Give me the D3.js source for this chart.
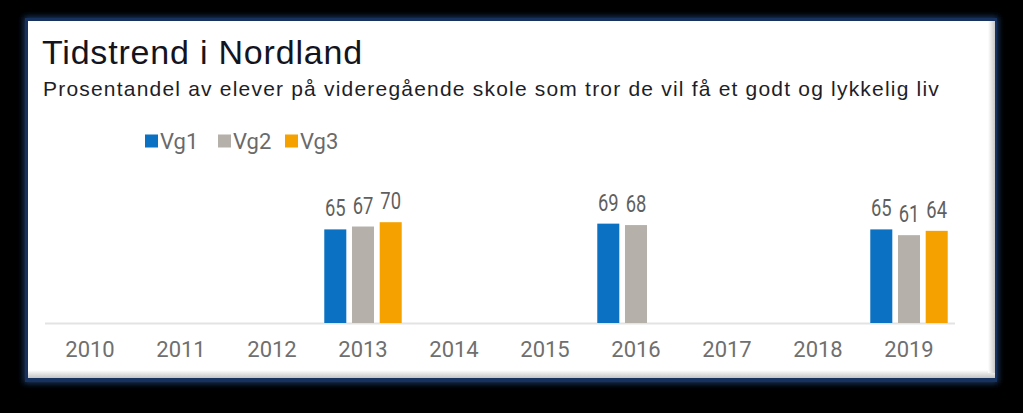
<!DOCTYPE html>
<html><head><meta charset="utf-8">
<script src="https://cdn.jsdelivr.net/npm/d3@7"></script>
<style>
html,body{margin:0;padding:0;background:#000;}
svg{display:block;}
</style></head>
<body>
<svg id="chart" width="1023" height="413"></svg>
<script>
const title = "Tidstrend i Nordland";
const subtitle = "Prosentandel av elever på videregående skole som tror de vil få et godt og lykkelig liv";
const years = ["2010","2011","2012","2013","2014","2015","2016","2017","2018","2019"];
const series = ["Vg1","Vg2","Vg3"];
const colors = ["#0b71c2","#b5b0a9","#f5a100"];
const vg1 = [null,null,null,65,null,null,69,null,null,65];
const vg2 = [null,null,null,67,null,null,68,null,null,61];
const vg3 = [null,null,null,70,null,null,null,null,null,64];
const values = [vg1, vg2, vg3];

const svg = d3.select("#chart");
const defs = svg.append("defs");
const f = defs.append("filter").attr("id","glow").attr("x","-5%").attr("y","-10%").attr("width","110%").attr("height","120%");
f.append("feGaussianBlur").attr("stdDeviation",3);

// frame
svg.append("rect").attr("x",24).attr("y",17).attr("width",974).attr("height",366)
  .attr("fill","#1d3c6e").attr("filter","url(#glow)");
svg.append("rect").attr("x",25).attr("y",18).attr("width",972).attr("height",364).attr("fill","#17325e");
const g1 = defs.append("linearGradient").attr("id","rshade").attr("x1",0).attr("x2",1).attr("y1",0).attr("y2",0);
g1.append("stop").attr("offset",0).attr("stop-color","#ffffff");
g1.append("stop").attr("offset",1).attr("stop-color","#c9c9c9");
const g2 = defs.append("linearGradient").attr("id","bshade").attr("x1",0).attr("x2",0).attr("y1",0).attr("y2",1);
g2.append("stop").attr("offset",0).attr("stop-color","#ffffff");
g2.append("stop").attr("offset",1).attr("stop-color","#c4c4c4");
svg.append("rect").attr("x",28).attr("y",21).attr("width",967).attr("height",357).attr("fill","#c8c8c8");
svg.append("rect").attr("x",28).attr("y",370).attr("width",967).attr("height",8).attr("fill","url(#bshade)");
svg.append("rect").attr("x",988).attr("y",21).attr("width",7).attr("height",352).attr("fill","url(#rshade)");
svg.append("rect").attr("x",28).attr("y",21).attr("width",960).attr("height",349).attr("fill","#ffffff");

// titles
svg.append("text").attr("x",42).attr("y",64).text(title)
  .attr("font-family","Liberation Sans, Arial, sans-serif").attr("font-size",34)
  .attr("letter-spacing",0.8).attr("fill","#14141e");
svg.append("text").attr("x",43).attr("y",96).text(subtitle)
  .attr("font-family","Liberation Sans, Arial, sans-serif").attr("font-size",21)
  .attr("letter-spacing",1.2).attr("fill","#1e1e28");

// legend
const legendX = [145, 218, 285];
series.forEach((s,i)=>{
  svg.append("rect").attr("x",legendX[i]).attr("y",134.5).attr("width",13).attr("height",13).attr("fill",colors[i]);
  svg.append("text").attr("x",legendX[i]+15).attr("y",148.5).text(s)
    .attr("font-family","Roboto, sans-serif").attr("font-size",22).attr("fill","#6a6a6a");
});

// scales
const x = d3.scaleBand().domain(years).range([44.5, 954.5]);
const xs = d3.scaleBand().domain(series).range([0, x.bandwidth()]).paddingInner(0.205).paddingOuter(0.245);
const y = d3.scaleLinear().domain([0,100]).range([323,179]);

// axis
const axis = svg.append("g").attr("transform","translate(0,323)").call(d3.axisBottom(x).tickSize(0).tickPadding(0));
axis.select(".domain").attr("stroke","#e3e3e3").attr("stroke-width",2);
axis.selectAll("text").attr("font-family","Roboto, sans-serif").attr("font-size",22).attr("fill","#6f6f6f")
  .attr("dy","0").attr("y",34);

// bars
const data = [];
years.forEach((yr,i)=>series.forEach((s,j)=>{ if(values[j][i]!=null) data.push({yr,s,j,v:values[j][i]}); }));
const bars = svg.append("g");
bars.selectAll("rect").data(data).join("rect")
  .attr("x",d=>x(d.yr)+xs(d.s)).attr("width",xs.bandwidth())
  .attr("y",d=>y(d.v)).attr("height",d=>y(0)-y(d.v)).attr("fill",d=>colors[d.j]);
bars.selectAll("text").data(data).join("text")
  .attr("transform",d=>`translate(${x(d.yr)+xs(d.s)+xs.bandwidth()/2},${y(d.v)-13}) scale(0.8,1)`)
  .attr("text-anchor","middle").text(d=>d.v)
  .attr("font-family","Roboto, sans-serif").attr("font-size",23).attr("fill","#5f5f5f");
</script>
</body></html>
